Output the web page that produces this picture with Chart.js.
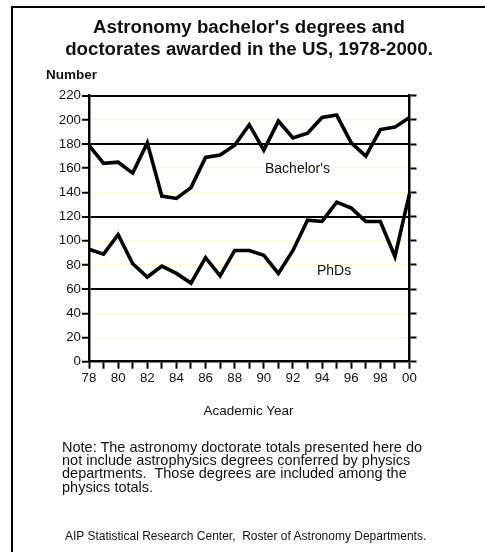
<!DOCTYPE html>
<html>
<head>
<meta charset="utf-8">
<script src="https://cdn.jsdelivr.net/npm/chart.js@4"></script>
<style>
  html, body { margin: 0; padding: 0; background: #fff; }
  body { width: 485px; height: 552px; position: relative; overflow: hidden;
         font-family: "Liberation Sans", Arial, sans-serif; color: #111; }
  #wrap { position: absolute; left: 0; top: 0; width: 485px; height: 552px; }
  .frame { position: absolute; left: 11px; top: 6px; width: 500px; height: 560px;
           border-top: 2px solid #000; border-left: 2px solid #000; }
  .txt { position: absolute; white-space: nowrap; }
  #title { left: 0; width: 498px; top: 16px; text-align: center; font-weight: bold;
           font-size: 18.7px; line-height: 22px; }
  #ylab { left: 46px; top: 68px; font-weight: bold; font-size: 13.5px; line-height: 13.5px; }
  #bach { left: 265px; top: 160.5px; font-size: 14px; line-height: 14px; }
  #phd { left: 317px; top: 262.5px; font-size: 14px; line-height: 14px; }
  #xlab { left: 0; width: 497px; text-align: center; top: 403.5px; font-size: 13.5px; line-height: 13.5px; }
  #note { left: 62px; top: 440.5px; font-size: 14.5px; line-height: 13.4px; white-space: normal; width: 420px; }
  #src { left: 65px; top: 530px; font-size: 12px; line-height: 12px; }
</style>
</head>
<body>
<div class="frame"></div>
<div id="wrap"><canvas id="c"></canvas></div>
<div class="txt" id="title">Astronomy bachelor's degrees and<br>doctorates awarded in the US, 1978-2000.</div>
<div class="txt" id="ylab">Number</div>
<div class="txt" id="bach">Bachelor's</div>
<div class="txt" id="phd">PhDs</div>
<div class="txt" id="xlab">Academic Year</div>
<div class="txt" id="note">Note: The astronomy doctorate totals presented here do<br>not include astrophysics degrees conferred by physics<br>departments.&nbsp; Those degrees are included among the<br>physics totals.</div>
<div class="txt" id="src">AIP Statistical Research Center,&nbsp; Roster of Astronomy Departments.</div>
<script>
// academic years 1978-2000
var years = ['78','79','80','81','82','83','84','85','86','87','88','89',
             '90','91','92','93','94','95','96','97','98','99','00'];
var bachelors = [179,164,165,156,181,137,135,144,169,171,179,196,
                 175,199,185,189,202,204,181,170,192,194,202];
var phds      = [93,89,105,81,70,79,73,65,86,71,92,92,
                 88,73,92,117,116,132,127,116,116,87,139];
var yTicks = [0,20,40,60,80,100,120,140,160,180,200,220];
var darkLines = [60,120,180,220];

var black = '#000';
var pale = 'rgb(252,248,214)';

new Chart(document.getElementById('c'), {
  type: 'line',
  data: {
    labels: years,
    datasets: [
      { label: "Bachelor's", data: bachelors, borderColor: black, borderWidth: 3.6,
        pointRadius: 0, tension: 0, fill: false },
      { label: 'PhDs', data: phds, borderColor: black, borderWidth: 3.6,
        pointRadius: 0, tension: 0, fill: false }
    ]
  },
  options: {
    responsive: true,
    maintainAspectRatio: false,
    animation: false,
    devicePixelRatio: 1,
    layout: { padding: { left: 44, right: 63.5, top: 95.7, bottom: 162.3 } },
    plugins: { legend: { display: false }, tooltip: { enabled: false } },
    scales: {
      x: {
        offset: false,
        grid: { drawOnChartArea: false, drawTicks: true, tickLength: 7, tickColor: black, tickWidth: 2 },
        border: { color: black, width: 2.5 },
        ticks: {
          autoSkip: false, maxRotation: 0, padding: 2, color: '#111',
          font: { family: 'Liberation Sans', size: 13.3 },
          callback: function(v, i) { return i % 2 === 0 ? years[i] : ''; }
        },
        afterFit: function(s) { s.height = 28; }
      },
      y: {
        min: 0, max: 220,
        afterBuildTicks: function(s) { s.ticks = yTicks.map(function(v){ return { value: v }; }); },
        grid: {
          color: function(ctx) {
            var v = ctx.tick && ctx.tick.value;
            if (v === 0) return 'rgba(0,0,0,0)';
            return darkLines.indexOf(v) >= 0 ? black : pale;
          },
          lineWidth: function(ctx) {
            var v = ctx.tick && ctx.tick.value;
            return darkLines.indexOf(v) >= 0 ? 2 : 1.5;
          },
          tickLength: 7, tickColor: black, tickWidth: 2
        },
        border: { color: black, width: 2.5 },
        ticks: { padding: 1, color: '#111', font: { family: 'Liberation Sans', size: 13.3 } },
        afterFit: function(s) { s.width = 45; }
      },
      y2: {
        position: 'right', min: 0, max: 220,
        afterBuildTicks: function(s) { s.ticks = yTicks.map(function(v){ return { value: v }; }); },
        grid: { drawOnChartArea: false, tickLength: 7, tickColor: black, tickWidth: 2 },
        border: { color: black, width: 2.5 },
        ticks: { display: false },
        afterFit: function(s) { s.width = 12; }
      }
    }
  }
});
</script>
</body>
</html>
